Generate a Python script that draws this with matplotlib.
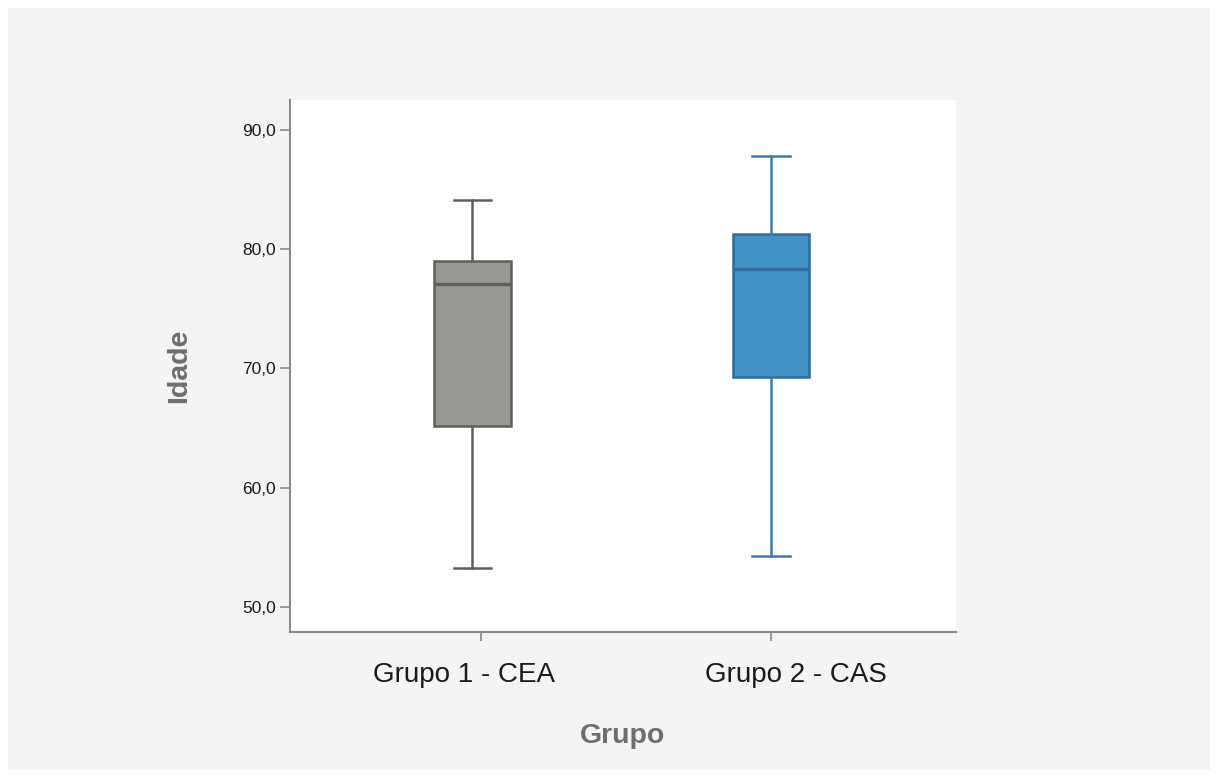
import matplotlib
matplotlib.use("Agg")
import matplotlib.pyplot as plt
from matplotlib.patches import Rectangle

plt.rcParams["font.family"] = ["Liberation Sans", "DejaVu Sans"]

# Data
groups = ["Grupo 1 - CEA", "Grupo 2 - CAS"]
whisker_low = [53.3, 54.3]
q1 = [65.2, 69.3]
median = [77.1, 78.3]
q3 = [79.0, 81.3]
whisker_high = [84.1, 87.8]
yticks = [50, 60, 70, 80, 90]

face_colors = ["#989894", "#4192c6"]
edge_colors = ["#5f5f5d", "#2f6b9c"]
whisk_colors = ["#5f5f5d", "#3a7ab2"]

fig = plt.figure(figsize=(12.16, 7.78), dpi=100)
fig.patch.set_facecolor("white")
fig.patches.append(Rectangle((8/1216, 8/778), (1210-8)/1216, (770-8)/778,
                             transform=fig.transFigure, facecolor="#f5f4f2",
                             edgecolor="none", zorder=-10))

ax = fig.add_axes([290/1216, (778-632)/778, (956-290)/1216, (632-100)/778])
ax.set_facecolor("white")

stats = []
for i in range(len(groups)):
    stats.append(dict(whislo=whisker_low[i], q1=q1[i], med=median[i],
                      q3=q3[i], whishi=whisker_high[i], fliers=[], label=groups[i]))

positions = [0.97, 2.0]
for i, s in enumerate(stats):
    ax.bxp([s], positions=[positions[i]], widths=0.265, patch_artist=True,
           showfliers=False,
           boxprops=dict(facecolor=face_colors[i], edgecolor=edge_colors[i], linewidth=1.8),
           medianprops=dict(color=edge_colors[i], linewidth=2.5),
           whiskerprops=dict(color=whisk_colors[i], linewidth=1.8),
           capprops=dict(color=whisk_colors[i], linewidth=1.8),
           capwidths=0.13)

ax.set_xlim(0.341, 2.638)
ax.set_ylim(47.9, 92.5)
ax.set_xticks([1, 2])
ax.set_xticklabels(["", ""])
ax.set_yticks(yticks)
ax.set_yticklabels([f"{v:.1f}".replace(".", ",") for v in yticks], fontsize=12.5, color="#1a1a1a")

# category labels (slightly off their ticks, as in the reference)
for xt, lbl, dx in zip([1, 2], groups, [-12, 18]):
    ax.annotate(lbl, xy=(xt, 0), xycoords=ax.get_xaxis_transform(),
                xytext=(dx, -31), textcoords="offset points",
                ha="center", va="center", fontsize=20, color="#1a1a1a",
                annotation_clip=False)

for side in ["top", "right"]:
    ax.spines[side].set_visible(False)
for side in ["left", "bottom"]:
    ax.spines[side].set_color("#8a8a8a")
    ax.spines[side].set_linewidth(1.5)
ax.tick_params(axis="y", length=7, width=1.2, color="#8a8a8a", pad=3)
ax.tick_params(axis="x", length=6.5, width=1.2, color="#8a8a8a", pad=17)

ax.set_ylabel("Idade", fontsize=20.5, fontweight="bold", color="#6e6e6e", labelpad=36)
ax.text(0.5, -0.195, "Grupo", transform=ax.transAxes, ha="center", va="center",
        fontsize=20.5, fontweight="bold", color="#6e6e6e")

fig.savefig("out.png", dpi=100, facecolor=fig.get_facecolor())
